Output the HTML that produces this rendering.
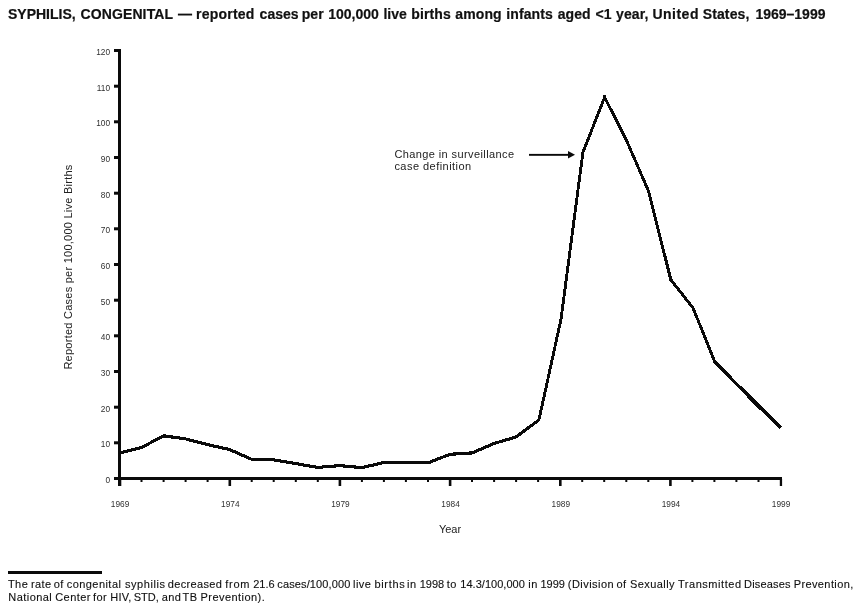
<!DOCTYPE html>
<html><head><meta charset="utf-8"><title>Syphilis, congenital</title>
<style>
html,body{margin:0;padding:0;background:#fff;}
body{width:864px;height:613px;position:relative;overflow:hidden;font-family:"Liberation Sans",sans-serif;color:#111;}
#title{position:absolute;left:0;top:6px;width:864px;height:16px;font-size:14px;font-weight:bold;white-space:nowrap;line-height:16px;-webkit-text-stroke:0.2px #111;}
#title span{position:absolute;top:0;}
svg{position:absolute;left:0;top:0;}
.tk{font-family:"Liberation Sans",sans-serif;font-size:8.3px;fill:#303030;}
.ax{font-family:"Liberation Sans",sans-serif;font-size:11px;fill:#222;}
#rule{position:absolute;left:8px;top:571px;width:94px;height:3px;background:#0a0a0a;}
#note{position:absolute;left:0;top:0;font-size:11px;color:#111;-webkit-text-stroke:0.12px #111;}
.nl{position:absolute;left:0;width:864px;height:13px;line-height:13px;white-space:nowrap;}
.nl span{position:absolute;top:0;}
</style></head><body>
<div id="title"><span style="left:8.0px;letter-spacing:0.00px">SYPHILIS,</span> <span style="left:80.4px;letter-spacing:0.13px">CONGENITAL</span> <span style="left:178.1px;letter-spacing:0.00px">—</span> <span style="left:196.1px;letter-spacing:0.20px">reported</span> <span style="left:259.6px;letter-spacing:0.00px">cases</span> <span style="left:301.8px;letter-spacing:0.00px">per</span> <span style="left:328.2px;letter-spacing:0.00px">100,000</span> <span style="left:383.4px;letter-spacing:0.00px">live</span> <span style="left:411.3px;letter-spacing:0.10px">births</span> <span style="left:455.3px;letter-spacing:0.10px">among</span> <span style="left:506.3px;letter-spacing:0.10px">infants</span> <span style="left:557.7px;letter-spacing:0.10px">aged</span> <span style="left:595.5px;letter-spacing:0.00px">&lt;1</span> <span style="left:616.1px;letter-spacing:0.10px">year,</span> <span style="left:652.4px;letter-spacing:0.50px">United</span> <span style="left:702.7px;letter-spacing:0.13px">States,</span> <span style="left:755.4px;letter-spacing:0.00px">1969–1999</span></div>
<svg width="864" height="613" viewBox="0 0 864 613">
<polyline transform="scale(0.92,1)" points="129.89,453.0 153.84,447.5 177.79,435.8 201.74,438.9 225.69,444.6 249.64,449.6 273.58,459.3 297.53,459.8 321.48,463.6 345.43,467.4 369.38,465.6 393.33,467.6 417.28,462.5 441.23,462.5 466.26,462.5 489.12,454.3 513.07,452.9 537.02,443.5 560.97,436.9 585.79,419.9 609.85,319.0 633.58,152.5 657.20,97.2 681.15,140.7 705.21,191.7 729.16,279.8 753.32,308.0 776.95,361.8 800.79,383.9 824.74,405.7 848.68,427.7" fill="none" stroke="#0a0a0a" stroke-width="3.15" stroke-linejoin="miter" stroke-linecap="butt" shape-rendering="crispEdges"/>
<rect x="600" y="88" width="10" height="7" fill="#fff"/>
<rect x="603" y="95" width="3" height="3" fill="#0a0a0a"/>
<polyline transform="scale(0.92,1)" points="813.37,396.2 848.37,428.3" fill="none" stroke="#0a0a0a" stroke-width="3.15" shape-rendering="crispEdges"/>
<polyline transform="scale(0.92,1)" points="777.07,362.6 793.48,377.8" fill="none" stroke="#0a0a0a" stroke-width="3.15" shape-rendering="crispEdges"/>
<rect x="118" y="49" width="3" height="437" fill="#0a0a0a"/>
<rect x="114" y="477" width="668" height="3" fill="#0a0a0a"/>
<rect x="114" y="441.3" width="5" height="3" fill="#0a0a0a"/>
<rect x="114" y="405.7" width="5" height="3" fill="#0a0a0a"/>
<rect x="114" y="370.0" width="5" height="3" fill="#0a0a0a"/>
<rect x="114" y="334.3" width="5" height="3" fill="#0a0a0a"/>
<rect x="114" y="298.7" width="5" height="3" fill="#0a0a0a"/>
<rect x="114" y="263.0" width="5" height="3" fill="#0a0a0a"/>
<rect x="114" y="227.3" width="5" height="3" fill="#0a0a0a"/>
<rect x="114" y="191.7" width="5" height="3" fill="#0a0a0a"/>
<rect x="114" y="156.0" width="5" height="3" fill="#0a0a0a"/>
<rect x="114" y="120.3" width="5" height="3" fill="#0a0a0a"/>
<rect x="114" y="84.7" width="5" height="3" fill="#0a0a0a"/>
<rect x="114" y="49.0" width="5" height="3" fill="#0a0a0a"/>
<rect x="118.3" y="479" width="3" height="7" fill="#0a0a0a"/>
<rect x="140.5" y="479" width="2" height="3" fill="#0a0a0a"/>
<rect x="162.6" y="479" width="2" height="3" fill="#0a0a0a"/>
<rect x="184.6" y="479" width="2" height="3" fill="#0a0a0a"/>
<rect x="206.6" y="479" width="2" height="3" fill="#0a0a0a"/>
<rect x="228.5" y="479" width="2.6" height="7" fill="#0a0a0a"/>
<rect x="250.7" y="479" width="2" height="3" fill="#0a0a0a"/>
<rect x="272.7" y="479" width="2" height="3" fill="#0a0a0a"/>
<rect x="294.8" y="479" width="2" height="3" fill="#0a0a0a"/>
<rect x="316.8" y="479" width="2" height="3" fill="#0a0a0a"/>
<rect x="338.6" y="479" width="2.6" height="7" fill="#0a0a0a"/>
<rect x="360.9" y="479" width="2" height="3" fill="#0a0a0a"/>
<rect x="382.9" y="479" width="2" height="3" fill="#0a0a0a"/>
<rect x="404.9" y="479" width="2" height="3" fill="#0a0a0a"/>
<rect x="427.0" y="479" width="2" height="3" fill="#0a0a0a"/>
<rect x="448.8" y="479" width="2.6" height="7" fill="#0a0a0a"/>
<rect x="471.0" y="479" width="2" height="3" fill="#0a0a0a"/>
<rect x="493.1" y="479" width="2" height="3" fill="#0a0a0a"/>
<rect x="515.1" y="479" width="2" height="3" fill="#0a0a0a"/>
<rect x="537.1" y="479" width="2" height="3" fill="#0a0a0a"/>
<rect x="559.0" y="479" width="2.6" height="7" fill="#0a0a0a"/>
<rect x="581.2" y="479" width="2" height="3" fill="#0a0a0a"/>
<rect x="603.2" y="479" width="2" height="3" fill="#0a0a0a"/>
<rect x="625.3" y="479" width="2" height="3" fill="#0a0a0a"/>
<rect x="647.3" y="479" width="2" height="3" fill="#0a0a0a"/>
<rect x="669.1" y="479" width="2.6" height="7" fill="#0a0a0a"/>
<rect x="691.4" y="479" width="2" height="3" fill="#0a0a0a"/>
<rect x="713.4" y="479" width="2" height="3" fill="#0a0a0a"/>
<rect x="735.4" y="479" width="2" height="3" fill="#0a0a0a"/>
<rect x="757.5" y="479" width="2" height="3" fill="#0a0a0a"/>
<rect x="779.8" y="479" width="2.3" height="7" fill="#0a0a0a"/>
<text x="110" y="482.8" text-anchor="end" class="tk">0</text>
<text x="110" y="447.1" text-anchor="end" class="tk">10</text>
<text x="110" y="411.5" text-anchor="end" class="tk">20</text>
<text x="110" y="375.8" text-anchor="end" class="tk">30</text>
<text x="110" y="340.1" text-anchor="end" class="tk">40</text>
<text x="110" y="304.5" text-anchor="end" class="tk">50</text>
<text x="110" y="268.8" text-anchor="end" class="tk">60</text>
<text x="110" y="233.1" text-anchor="end" class="tk">70</text>
<text x="110" y="197.5" text-anchor="end" class="tk">80</text>
<text x="110" y="161.8" text-anchor="end" class="tk">90</text>
<text x="110" y="126.1" text-anchor="end" class="tk">100</text>
<text x="110" y="90.5" text-anchor="end" class="tk">110</text>
<text x="110" y="54.8" text-anchor="end" class="tk">120</text>
<text x="120.1" y="507" text-anchor="middle" class="tk">1969</text>
<text x="230.3" y="507" text-anchor="middle" class="tk">1974</text>
<text x="340.4" y="507" text-anchor="middle" class="tk">1979</text>
<text x="450.6" y="507" text-anchor="middle" class="tk">1984</text>
<text x="560.8" y="507" text-anchor="middle" class="tk">1989</text>
<text x="670.9" y="507" text-anchor="middle" class="tk">1994</text>
<text x="781.1" y="507" text-anchor="middle" class="tk">1999</text>
<text x="450" y="533" text-anchor="middle" class="ax">Year</text>
<text transform="translate(72.3,267) rotate(-90)" text-anchor="middle" class="ax" letter-spacing="0.25">Reported Cases per 100,000 Live Births</text>
<text x="394.4" y="158" class="ax" letter-spacing="0.4">Change in surveillance</text>
<text x="394.4" y="169.6" class="ax" letter-spacing="0.46">case definition</text>
<rect x="529" y="153.9" width="41" height="1.9" fill="#0a0a0a"/>
<polygon points="568,151 575,154.8 568,158.5" fill="#0a0a0a"/>
</svg>
<div id="rule"></div>
<div id="note"><div class="nl" style="top:578.2px"><span style="left:7.9px;letter-spacing:0.45px">The</span> <span style="left:30.9px;letter-spacing:0.45px">rate</span> <span style="left:53.7px;letter-spacing:0.45px">of</span> <span style="left:66.7px;letter-spacing:0.45px">congenital</span> <span style="left:125.0px;letter-spacing:0.55px">syphilis</span> <span style="left:167.8px;letter-spacing:0.34px">decreased</span> <span style="left:225.2px;letter-spacing:0.75px">from</span> <span style="left:253.2px;letter-spacing:0.00px">21.6</span> <span style="left:277.3px;letter-spacing:0.12px">cases/100,000</span> <span style="left:353.0px;letter-spacing:0.45px">live</span> <span style="left:374.4px;letter-spacing:0.70px">births</span> <span style="left:407.0px;letter-spacing:0.45px">in</span> <span style="left:419.7px;letter-spacing:0.00px">1998</span> <span style="left:446.8px;letter-spacing:0.45px">to</span> <span style="left:460.3px;letter-spacing:0.03px">14.3/100,000</span> <span style="left:528.3px;letter-spacing:0.45px">in</span> <span style="left:540.4px;letter-spacing:0.00px">1999</span> <span style="left:567.8px;letter-spacing:0.45px">(Division</span> <span style="left:616.4px;letter-spacing:0.45px">of</span> <span style="left:629.9px;letter-spacing:0.45px">Sexually</span> <span style="left:677.9px;letter-spacing:0.55px">Transmitted</span> <span style="left:744.1px;letter-spacing:0.18px">Diseases</span> <span style="left:793.7px;letter-spacing:0.39px">Prevention,</span></div>
<div class="nl" style="top:591px"><span style="left:8.3px;letter-spacing:0.45px">National</span> <span style="left:55.2px;letter-spacing:0.45px">Center</span> <span style="left:93.0px;letter-spacing:0.45px">for</span> <span style="left:110.3px;letter-spacing:0.20px">HIV,</span> <span style="left:133.7px;letter-spacing:0.00px">STD,</span> <span style="left:161.7px;letter-spacing:0.45px">and</span> <span style="left:182.5px;letter-spacing:0.45px">TB</span> <span style="left:200.5px;letter-spacing:0.45px">Prevention).</span></div>
</div>
</body></html>
